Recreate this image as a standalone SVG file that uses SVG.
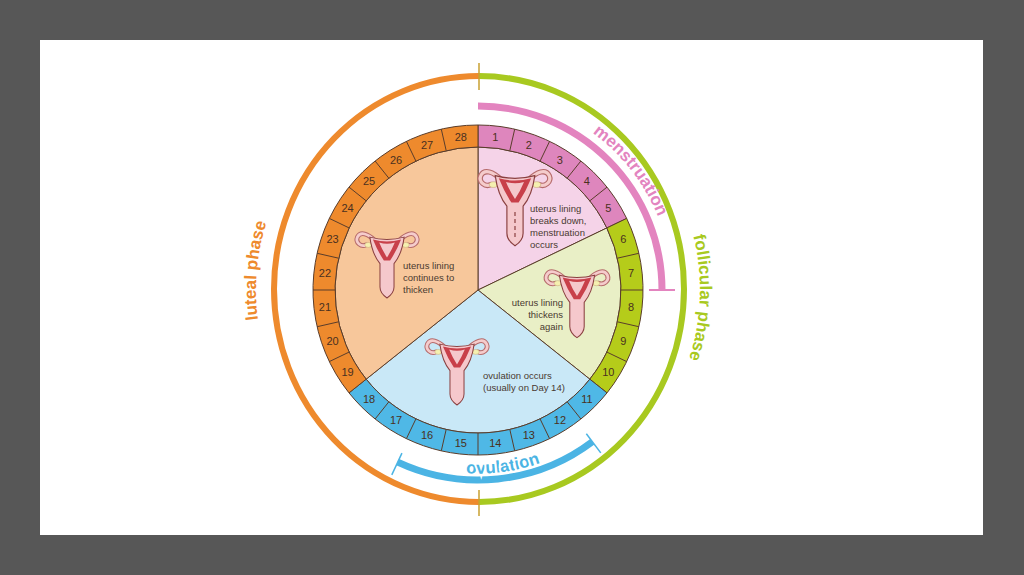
<svg xmlns="http://www.w3.org/2000/svg" xmlns:xlink="http://www.w3.org/1999/xlink" width="1024" height="575" viewBox="0 0 1024 575">
<style>
.seg{stroke:#5a3d2b;stroke-width:1}
.rad{stroke:#5a3d2b;stroke-width:1}
.num{font-family:"Liberation Sans",Arial,sans-serif;font-size:11px;fill:#4a3020;text-anchor:middle;dominant-baseline:central}
.lbl{font-family:"Liberation Sans",Arial,sans-serif;font-size:9.5px;fill:#4a3a30}
.ph{font-family:"Liberation Sans",Arial,sans-serif;font-weight:bold;font-size:17px}
</style>
<defs>
<g id="ut">
<path d="M-16,8 C-24,0 -34,-4 -38,4 C-41,11 -33,17 -27,14" fill="none" stroke="#b56a6a" stroke-width="6" stroke-linecap="round"/>
<path d="M-16,8 C-24,0 -34,-4 -38,4 C-41,11 -33,17 -27,14" fill="none" stroke="#f5cccc" stroke-width="3.5" stroke-linecap="round"/>
<path d="M16,8 C24,0 34,-4 38,4 C41,11 33,17 27,14" fill="none" stroke="#b56a6a" stroke-width="6" stroke-linecap="round"/>
<path d="M16,8 C24,0 34,-4 38,4 C41,11 33,17 27,14" fill="none" stroke="#f5cccc" stroke-width="3.5" stroke-linecap="round"/>
<ellipse cx="-24" cy="14" rx="4.5" ry="3.2" fill="#f5f0b0" stroke="#c0a070" stroke-width="0.6"/>
<ellipse cx="24" cy="14" rx="4.5" ry="3.2" fill="#f5f0b0" stroke="#c0a070" stroke-width="0.6"/>
<path d="M-22,4 Q0,10 22,4 Q19,26 9,38 L9,68 Q9,76 0,82 Q-9,76 -9,68 L-9,38 Q-19,26 -22,4Z" fill="#f5c8cc" stroke="#8a4040" stroke-width="1.3"/>
<path d="M-18,7 Q0,12 18,7 Q12,22 4,34 L-4,34 Q-12,22 -18,7Z" fill="#c8404a"/>
<path d="M-10,11 Q0,14 10,11 Q6,21 0,30 Q-6,21 -10,11Z" fill="#f5c8cc"/>
</g>
</defs>
<rect width="1024" height="575" fill="#575757"/>
<rect x="40" y="40" width="943" height="495" fill="#ffffff"/>

<g id="phase-rings">
<path d="M479,76 A205 213 0 0 0 479,502" fill="none" stroke="#ee8a2d" stroke-width="6"/>
<path d="M479,76 A205 213 0 0 1 479,502" fill="none" stroke="#a8c920" stroke-width="6"/>
<line x1="479" y1="63" x2="479" y2="90" stroke="#c8a030" stroke-width="1.5"/>
<line x1="479" y1="490" x2="479" y2="516" stroke="#c8a030" stroke-width="1.5"/>
</g>

<g id="pie">
<path class="seg" d="M478,290 L478,147 A143 143 0 0 1 606.84,227.95 Z" fill="#f5d3e8"/>
<path class="seg" d="M478,290 L606.84,227.95 A143 143 0 0 1 589.80,379.16 Z" fill="#e9efc6"/>
<path class="seg" d="M478,290 L589.80,379.16 A143 143 0 0 1 366.20,379.16 Z" fill="#c9e8f7"/>
<path class="seg" d="M478,290 L366.20,379.16 A143 143 0 0 1 478,147 Z" fill="#f7c79b"/>
</g>

<g id="day-ring">
<path class="seg" d="M478,125 A165 165 0 0 1 626.67,218.41 L606.84,227.95 A143 143 0 0 0 478,147 Z" fill="#de86bd"/>
<path class="seg" d="M626.67,218.41 A165 165 0 0 1 607,392.88 L589.80,379.16 A143 143 0 0 0 606.84,227.95 Z" fill="#b5cc1a"/>
<path class="seg" d="M607,392.88 A165 165 0 0 1 349,392.88 L366.20,379.16 A143 143 0 0 0 589.80,379.16 Z" fill="#4fb8e6"/>
<path class="seg" d="M349,392.88 A165 165 0 0 1 478,125 L478,147 A143 143 0 0 0 366.20,379.16 Z" fill="#ee8a2d"/>
<g class="rad">
<line x1="509.82" y1="150.59" x2="514.71" y2="129.14"/>
<line x1="540.05" y1="161.16" x2="549.59" y2="141.33"/>
<line x1="567.16" y1="178.20" x2="580.88" y2="161.00"/>
<line x1="589.80" y1="200.84" x2="607.00" y2="187.12"/>
<line x1="617.41" y1="258.18" x2="638.86" y2="253.29"/>
<line x1="621" y1="290" x2="643" y2="290"/>
<line x1="617.41" y1="321.82" x2="638.86" y2="326.71"/>
<line x1="606.84" y1="352.05" x2="626.67" y2="361.59"/>
<line x1="567.16" y1="401.80" x2="580.88" y2="419.00"/>
<line x1="540.05" y1="418.84" x2="549.59" y2="438.67"/>
<line x1="509.82" y1="429.41" x2="514.71" y2="450.86"/>
<line x1="478" y1="433" x2="478" y2="455"/>
<line x1="446.18" y1="429.41" x2="441.29" y2="450.86"/>
<line x1="415.95" y1="418.84" x2="406.41" y2="438.67"/>
<line x1="388.84" y1="401.80" x2="375.12" y2="419.00"/>
<line x1="349.16" y1="352.05" x2="329.33" y2="361.59"/>
<line x1="338.59" y1="321.82" x2="317.14" y2="326.71"/>
<line x1="335" y1="290" x2="313" y2="290"/>
<line x1="338.59" y1="258.18" x2="317.14" y2="253.29"/>
<line x1="349.16" y1="227.95" x2="329.33" y2="218.41"/>
<line x1="366.20" y1="200.84" x2="349" y2="187.12"/>
<line x1="388.84" y1="178.20" x2="375.12" y2="161.00"/>
<line x1="415.95" y1="161.16" x2="406.41" y2="141.33"/>
<line x1="446.18" y1="150.59" x2="441.29" y2="129.14"/>
</g>
<g class="num">
<text x="495.25" y="136.97">1</text><text x="528.87" y="144.64">2</text><text x="559.93" y="159.61">3</text><text x="586.89" y="181.11">4</text><text x="608.39" y="208.07">5</text>
<text x="623.36" y="239.13">6</text><text x="631.03" y="272.75">7</text><text x="631.03" y="307.25">8</text><text x="623.36" y="340.87">9</text><text x="608.39" y="371.93">10</text>
<text x="586.89" y="398.89">11</text><text x="559.93" y="420.39">12</text><text x="528.87" y="435.36">13</text><text x="495.25" y="443.03">14</text><text x="460.75" y="443.03">15</text><text x="427.13" y="435.36">16</text><text x="396.07" y="420.39">17</text><text x="369.11" y="398.89">18</text>
<text x="347.61" y="371.93">19</text><text x="332.64" y="340.87">20</text><text x="324.97" y="307.25">21</text><text x="324.97" y="272.75">22</text><text x="332.64" y="239.13">23</text><text x="347.61" y="208.07">24</text><text x="369.11" y="181.11">25</text><text x="396.07" y="159.61">26</text><text x="427.13" y="144.64">27</text><text x="460.75" y="136.97">28</text>
</g>
</g>

<g id="menstruation">
<path d="M478,106 A184 184 0 0 1 662,290" fill="none" stroke="#e384bf" stroke-width="7"/>
<line x1="649" y1="290" x2="675" y2="290" stroke="#e384bf" stroke-width="2"/>
<path id="pm" d="M550.66,109.74 A194.5 194.5 0 0 1 670.61,262.93" fill="none"/>
<text class="ph" fill="#e384bf" font-size="15"><textPath href="#pm" startOffset="50%" text-anchor="middle">menstruation</textPath></text>
</g>

<g id="ovulation">
<path d="M592.34,441.73 A190 190 0 0 1 397.71,462.20" fill="none" stroke="#4bb4e4" stroke-width="7"/>
<line x1="586.32" y1="433.74" x2="600.77" y2="452.92" stroke="#4bb4e4" stroke-width="1.5"/>
<line x1="401.93" y1="453.13" x2="391.79" y2="474.89" stroke="#4bb4e4" stroke-width="1.5"/>
<path id="po" d="M380.72,445.69 A184 184 0 0 0 614.74,413.12" fill="none"/>
<text class="ph" fill="#4bb4e4" stroke="#ffffff" stroke-width="4" paint-order="stroke" font-size="16"><textPath href="#po" startOffset="50%" text-anchor="middle">ovulation</textPath></text>
</g>

<g id="luteal-label">
<path id="pl" d="M296.14,417.34 A222 222 0 0 1 321.02,133.02" fill="none"/>
<text class="ph" fill="#ee8a2d"><textPath href="#pl" startOffset="50%" text-anchor="middle">luteal phase</textPath></text>
</g>
<g id="follicular-label">
<path id="pf" d="M640.36,138.60 A222 222 0 0 1 629.40,452.37" fill="none"/>
<text class="ph" fill="#a8c920"><textPath href="#pf" startOffset="50%" text-anchor="middle">follicular phase</textPath></text>
</g>

<g id="node-menstruation">
<use href="#ut" transform="translate(515,172) scale(0.9)"/>
<line x1="515" y1="212" x2="515" y2="238" stroke="#8a4040" stroke-width="1.2" stroke-dasharray="4 3"/>
<text class="lbl" x="530"><tspan x="530" y="212">uterus lining</tspan><tspan x="530" y="224">breaks down,</tspan><tspan x="530" y="236">menstruation</tspan><tspan x="530" y="248">occurs</tspan></text>
</g>
<g id="node-follicular">
<use href="#ut" transform="translate(577,272) scale(0.8)"/>
<text class="lbl" text-anchor="end"><tspan x="563" y="306">uterus lining</tspan><tspan x="563" y="318">thickens</tspan><tspan x="563" y="330">again</tspan></text>
</g>
<g id="node-ovulation">
<use href="#ut" transform="translate(457,341) scale(0.78)"/>
<text class="lbl"><tspan x="483" y="379">ovulation occurs</tspan><tspan x="483" y="391">(usually on Day 14)</tspan></text>
</g>
<g id="node-luteal">
<use href="#ut" transform="translate(387,234) scale(0.78)"/>
<text class="lbl"><tspan x="403" y="269">uterus lining</tspan><tspan x="403" y="281">continues to</tspan><tspan x="403" y="293">thicken</tspan></text>
</g>
</svg>
